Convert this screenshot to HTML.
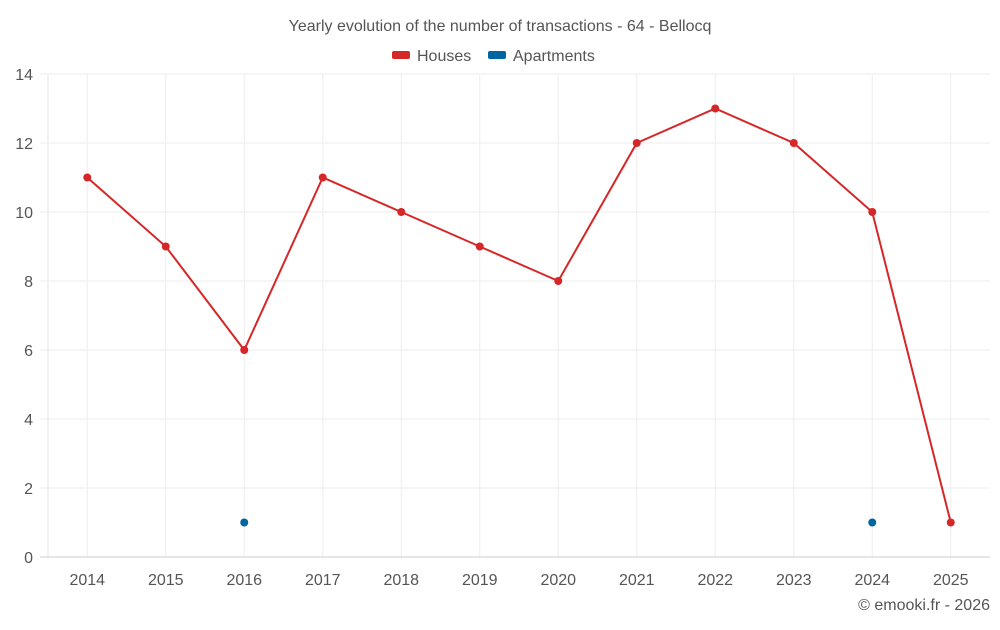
<!DOCTYPE html>
<html><head><meta charset="utf-8"><style>
body{margin:0;background:#fff;font-family:"Liberation Sans",sans-serif;}
svg text{font-family:"Liberation Sans",sans-serif;}
</style></head><body>
<svg id="chart" width="1000" height="625">
<text x="500" y="31" text-anchor="middle" font-size="16" fill="#555">Yearly evolution of the number of transactions - 64 - Bellocq</text>
<g>
<g><rect x="392" y="51" width="18" height="8" rx="2" fill="#d62728"/><text x="417" y="61" font-size="16" fill="#555">Houses</text></g>
<g><rect x="488" y="51" width="18" height="8" rx="2" fill="#0066a2"/><text x="513" y="61" font-size="16" fill="#555">Apartments</text></g>
</g>
<g id="grid"></g><g id="axes"></g><g id="series"></g>
<text x="990" y="610" text-anchor="end" font-size="16" fill="#555">© emooki.fr - 2026</text>
</svg>
<script>
const categories=["2014","2015","2016","2017","2018","2019","2020","2021","2022","2023","2024","2025"];
const houses=[11,9,6,11,10,9,8,12,13,12,10,1];
const apartments=[null,null,1,null,null,null,null,null,null,null,1,null];
const yTicks=[0,2,4,6,8,10,12,14];
const NS="http://www.w3.org/2000/svg";
const L=48,R=990,T=74,B=557,yMax=14;
const bw=(R-L)/categories.length;
function x(i){return L+bw*(i+0.5);}
function y(v){return B-(v/yMax)*(B-T);}
function mk(tag,attrs,parent){const e=document.createElementNS(NS,tag);for(const k in attrs)e.setAttribute(k,attrs[k]);parent.appendChild(e);return e;}
const grid=document.getElementById('grid'),axes=document.getElementById('axes'),series=document.getElementById('series');
yTicks.forEach(v=>{
  if(v>0){const g=mk('line',{x1:L-8,x2:R,y1:y(v),y2:y(v),stroke:'#eee'},grid);
  
  }
  const t=mk('text',{x:L-15,y:y(v)+6,'text-anchor':'end','font-size':16,fill:'#555'},axes);t.textContent=v;
  
  
});
const lb=mk('line',{x1:L,x2:L,y1:T,y2:B,stroke:'#e6e6e6'},grid);


categories.forEach((c,i)=>{
  const g=mk('line',{x1:x(i),x2:x(i),y1:T,y2:B,stroke:'#eee'},grid);
  
  
});
const ax=mk('line',{x1:L-8,x2:R,y1:B,y2:B,stroke:'#ccc'},axes);


categories.forEach((c,i)=>{
  const t=mk('text',{x:x(i),y:585,'text-anchor':'middle','font-size':16,fill:'#555'},axes);t.textContent=c;
  
  
});
const pts=houses.map((v,i)=>x(i)+','+y(v)).join(' ');
const pl=mk('polyline',{points:pts,fill:'none',stroke:'#d62728','stroke-width':2},series);


houses.forEach((v,i)=>{
  const c=mk('circle',{cx:x(i),cy:y(v),r:4,fill:'#d62728'},series);
  
  
});
apartments.forEach((v,i)=>{
  if(v==null)return;
  const c=mk('circle',{cx:x(i),cy:y(v),r:4,fill:'#0066a2'},series);
  
  
});
</script>
</body></html>
